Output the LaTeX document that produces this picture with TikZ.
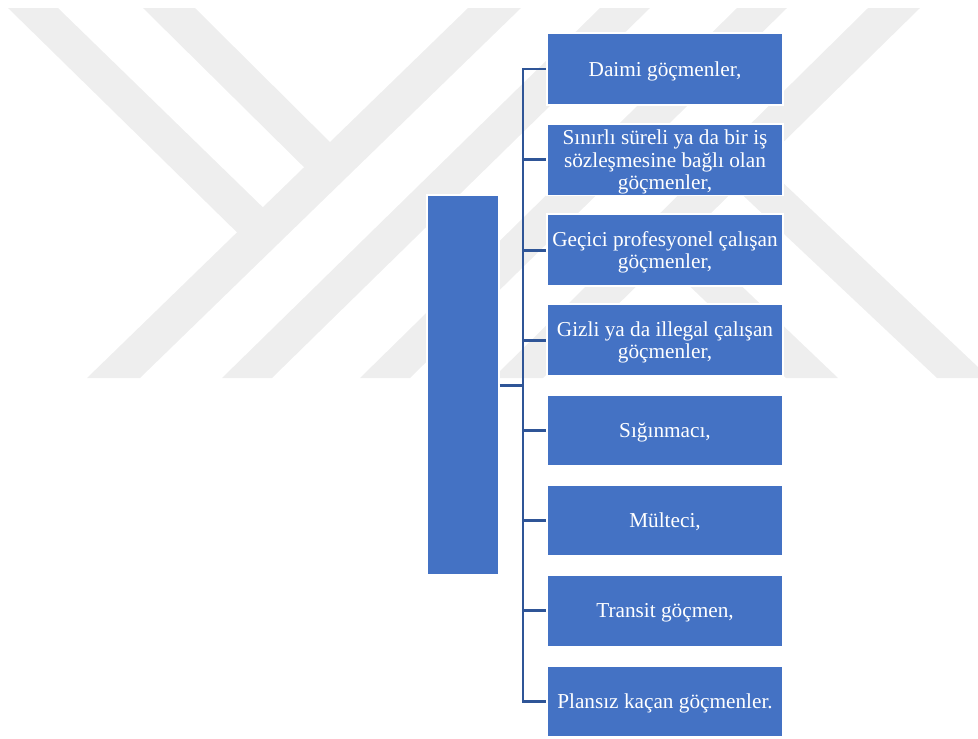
\documentclass[tikz,border=0pt]{standalone}
\usepackage{fontspec}
\setmainfont{Liberation Serif}
\usepackage{tikz}
\definecolor{boxblue}{HTML}{4472C4}
\definecolor{linkblue}{HTML}{2F5597}
\definecolor{markgray}{HTML}{EEEEEE}
\tikzset{
    wm/.style = {fill=markgray},
    box/.style = {rectangle, draw=white, fill=boxblue, line width=1.13pt, text=white, align=center,
        inner sep=0pt, minimum width=4.72cm, minimum height=1.43cm, font=\fontsize{12.1}{12.7}\selectfont,
        text depth=0pt},
    link/.style = {draw=linkblue, line width=1.7pt},
    elbow/.style = {to path={|- (\tikztotarget)}}
}
\begin{document}
\begin{tikzpicture}[x=0.02cm,y=-0.02cm]
    \useasboundingbox (0,0) rectangle (978,738);
    % watermark
    \fill[wm] (8,8) -- (58,8) -- (278,222) -- (255,250) -- cycle;
    \fill[wm] (143,8) -- (195,8) -- (350,162) -- (323,186) -- cycle;
    \fill[wm] (468,8) -- (521,8) -- (140,378) -- (87,378) -- cycle;
    \fill[wm] (600,8) -- (650,8) -- (272,378) -- (222,378) -- cycle;
    \fill[wm] (737,8) -- (787,8) -- (410,378) -- (360,378) -- cycle;
    \fill[wm] (868,8) -- (920,8) -- (543,378) -- (493,378) -- cycle;
    \fill[wm] (685,232) -- (838,378) -- (786,378) -- (659,257) -- cycle;
    \fill[wm] (761,162) -- (978,367) -- (978,378) -- (937,378) -- (733,186) -- cycle;

    \node[box, minimum width=1.44cm, minimum height=7.6cm] (root) at (463,385) {};
    \node[box] (d1) at (665,69) {Daimi göçmenler,};
    \node[box] (d2) at (665,159.75) {Sınırlı süreli ya da bir iş\\sözleşmesine bağlı olan\\göçmenler,};
    \node[box] (d3) at (665,250) {Geçici profesyonel çalışan\\göçmenler,};
    \node[box] (d4) at (665,340) {Gizli ya da illegal çalışan\\göçmenler,};
    \node[box] (d5) at (665,430.25) {Sığınmacı,};
    \node[box] (d6) at (665,520.5) {Mülteci,};
    \node[box] (d7) at (665,610.75) {Transit göçmen,};
    \node[box] (d8) at (665,701.25) {Plansız kaçan göçmenler.};
    \coordinate (trunk) at (523,385);

    \path[link] (root) edge (trunk);
    \path[link] (trunk) edge[elbow] (d1.west);
    \path[link] (trunk) edge[elbow] (d2.west);
    \path[link] (trunk) edge[elbow] (d3.west);
    \path[link] (trunk) edge[elbow] (d4.west);
    \path[link] (trunk) edge[elbow] (d5.west);
    \path[link] (trunk) edge[elbow] (d6.west);
    \path[link] (trunk) edge[elbow] (d7.west);
    \path[link] (trunk) edge[elbow] (d8.west);
\end{tikzpicture}
\end{document}
